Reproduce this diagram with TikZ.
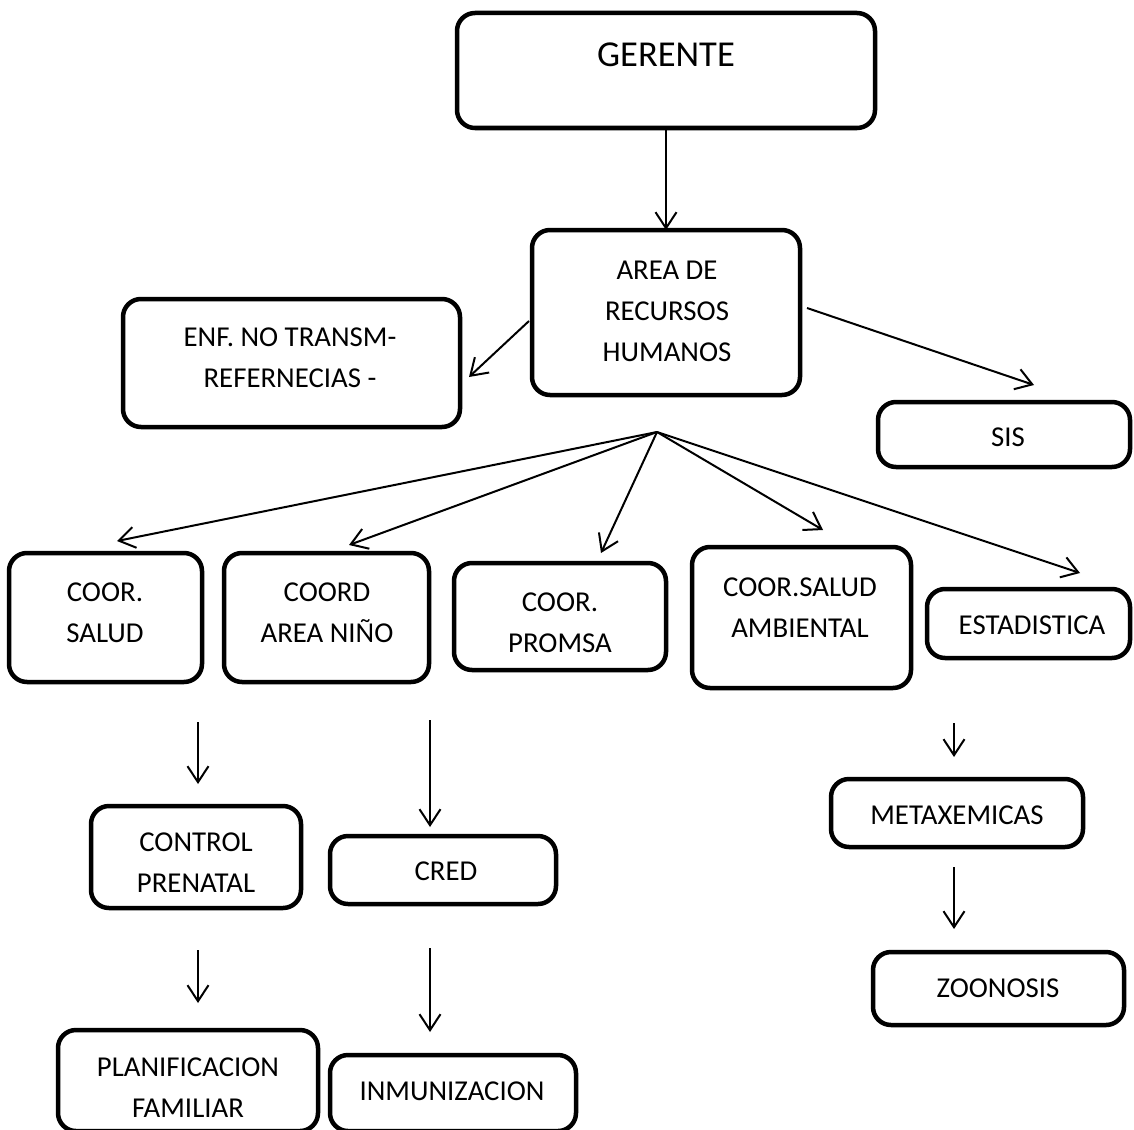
\documentclass[tikz,border=0pt]{standalone}
\usepackage{fontspec}
\setmainfont{Carlito}
\usetikzlibrary{arrows.meta}
\begin{document}
\begin{tikzpicture}[x=1pt,y=-1pt,
  box/.style={draw, line width=4.5pt, rounded corners=18pt, inner sep=0pt, outer sep=0pt},
  txt/.style={font=\fontsize{28.8}{41}\selectfont, align=center, inner sep=0pt},
  arr/.style={line width=2pt, -{Straight Barb[length=16pt,width=21pt,line width=2pt]}}]
\useasboundingbox (0,0) rectangle (1134,1129);
% boxes
\node[box, minimum width=418pt, minimum height=115pt] (ger) at (666,70.5) {};
\node[box, minimum width=268pt, minimum height=165pt] (area) at (666,312.5) {};
\node[box, minimum width=337pt, minimum height=128pt] (enf) at (291.5,363) {};
\node[box, minimum width=252pt, minimum height=65pt] (sis) at (1004,434.5) {};
\node[box, minimum width=193pt, minimum height=129pt] (salud) at (105.5,617.5) {};
\node[box, minimum width=205pt, minimum height=129pt] (nino) at (326.5,617.5) {};
\node[box, minimum width=212pt, minimum height=107pt] (promsa) at (560,616.5) {};
\node[box, minimum width=219pt, minimum height=141pt] (amb) at (801.5,617.5) {};
\node[box, minimum width=203pt, minimum height=69pt] (est) at (1028.5,623.5) {};
\node[box, minimum width=210pt, minimum height=102pt] (control) at (196,857) {};
\node[box, minimum width=226pt, minimum height=68pt] (cred) at (443,870) {};
\node[box, minimum width=252pt, minimum height=68pt] (meta) at (957,813) {};
\node[box, minimum width=251pt, minimum height=73pt] (zoo) at (998.5,988.5) {};
\node[box, minimum width=260pt, minimum height=101pt] (plan) at (188,1080.5) {};
\node[box, minimum width=246pt, minimum height=76pt] (inmu) at (453,1093) {};
% texts
\node[txt, font=\fontsize{36.5}{44}\selectfont] (gerT) at (666,55) {GERENTE};
\node[txt] (areaT) at (667,311) {AREA DE\\RECURSOS\\HUMANOS};
\node[txt] (enfT) at (290,358) {ENF. NO TRANSM-\\REFERNECIAS -};
\node[txt] (sisT) at (1008,437) {SIS};
\node[txt] (saludT) at (105,612.5) {COOR.\\SALUD};
\node[txt] (ninoT) at (327,612.5) {COORD\\AREA NIÑO};
\node[txt] (promsaT) at (560,622.5) {COOR.\\PROMSA};
\node[txt] (ambT) at (800,607.5) {COOR.SALUD\\AMBIENTAL};
\node[txt] (estT) at (1032,625) {ESTADISTICA};
\node[txt] (controlT) at (196,862.5) {CONTROL\\PRENATAL};
\node[txt] (credT) at (446,871) {CRED};
\node[txt] (metaT) at (957,815) {METAXEMICAS};
\node[txt] (zooT) at (998,988) {ZOONOSIS};
\node[txt] (planT) at (188,1088) {PLANIFICACION\\FAMILIAR};
\node[txt] (inmuT) at (452,1091) {INMUNIZACION};
% connector coordinates
\coordinate (fan) at (657,432);
\coordinate (enfS) at (529,321);   \coordinate (enfE) at (469,377);
\coordinate (sisS) at (807,308);   \coordinate (sisE) at (1034,385);
\coordinate (saludE) at (117,541);
\coordinate (ninoE) at (349,545);
\coordinate (promsaE) at (601,553);
\coordinate (ambE) at (823,530);
\coordinate (estE) at (1080,573);
\coordinate (c1S) at (198,722);  \coordinate (c1E) at (198,784);
\coordinate (c2S) at (430,720);  \coordinate (c2E) at (430,827);
\coordinate (c3S) at (198,950);  \coordinate (c3E) at (198,1003);
\coordinate (c4S) at (430,948);  \coordinate (c4E) at (430,1032);
\coordinate (c5S) at (954,723);  \coordinate (c5E) at (954,757);
\coordinate (c6S) at (954,867);  \coordinate (c6E) at (954,929);
% connectors
\draw[arr] (ger.south) -- (area.north);
\draw[arr] (enfS) -- (enfE);
\draw[arr] (sisS) -- (sisE);
\draw[arr] (fan) -- (saludE);
\draw[arr] (fan) -- (ninoE);
\draw[arr] (fan) -- (promsaE);
\draw[arr] (fan) -- (ambE);
\draw[arr] (fan) -- (estE);
\draw[arr] (c1S) -- (c1E);
\draw[arr] (c2S) -- (c2E);
\draw[arr] (c3S) -- (c3E);
\draw[arr] (c4S) -- (c4E);
\draw[arr] (c5S) -- (c5E);
\draw[arr] (c6S) -- (c6E);
\end{tikzpicture}
\end{document}
